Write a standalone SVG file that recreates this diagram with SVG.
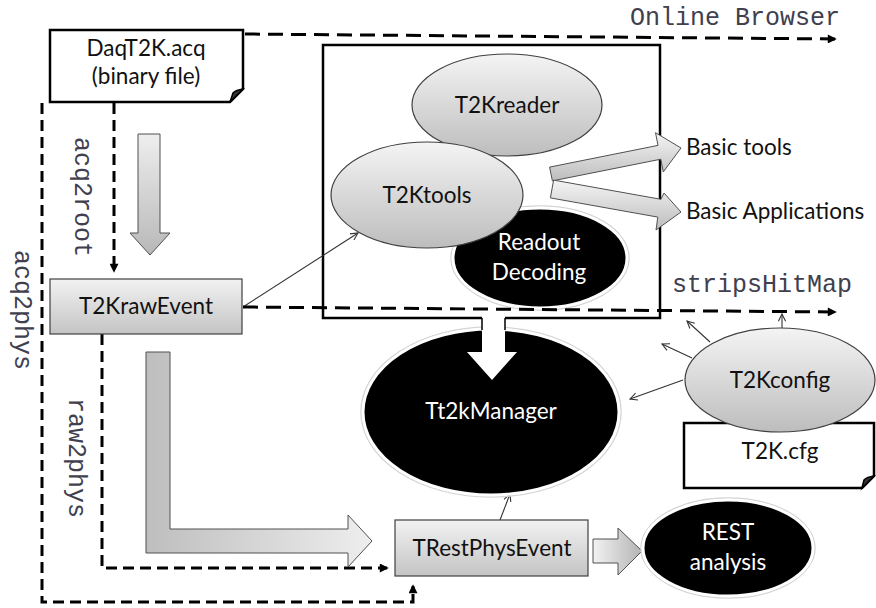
<svg xmlns="http://www.w3.org/2000/svg" width="876" height="608" viewBox="0 0 876 608">
<style>
.lbl{font-family:Lato,"Open Sans","Liberation Sans",sans-serif;font-size:22.5px;fill:#111;text-anchor:middle}
.wl{fill:#fff}
.mono{font-family:"Liberation Mono","DejaVu Sans Mono",monospace;font-size:25px;fill:#40404e}
.gell{fill:url(#gv);stroke:#404040;stroke-width:1.2}
.bell{fill:#000;stroke:#fff;stroke-width:3}
.halo{fill:none;stroke:#d4d4d4;stroke-width:1.5}
.note{fill:#fff;stroke:#000;stroke-width:2.5}
.fold{fill:#333;stroke:#000;stroke-width:1.5}
.rbox{fill:url(#gv2);stroke:#404040;stroke-width:1.2}
.dh{fill:none;stroke:#000;stroke-width:3;stroke-dasharray:15 8}
.dv{fill:none;stroke:#000;stroke-width:3;stroke-dasharray:11 6}
.thin{fill:none;stroke:#333;stroke-width:1.1;marker-end:url(#open)}
.barrow{stroke:#505050;stroke-width:1}
</style>
<defs>
<linearGradient id="gv" x1="0" y1="0" x2="0" y2="1"><stop offset="0" stop-color="#f4f4f4"/><stop offset="1" stop-color="#bdbdbd"/></linearGradient>
<linearGradient id="gv2" x1="0" y1="0" x2="0" y2="1"><stop offset="0" stop-color="#f2f2f2"/><stop offset="1" stop-color="#c4c4c4"/></linearGradient>
<linearGradient id="gdown" x1="0" y1="0" x2="0" y2="1"><stop offset="0" stop-color="#eeeeee"/><stop offset="1" stop-color="#b8b8b8"/></linearGradient>
<linearGradient id="gL" gradientUnits="userSpaceOnUse" x1="146" y1="0" x2="372" y2="0"><stop offset="0" stop-color="#bebebe"/><stop offset="1" stop-color="#eeeeee"/></linearGradient>
<linearGradient id="gR" x1="0" y1="0" x2="1" y2="0"><stop offset="0" stop-color="#f2f2f2"/><stop offset="1" stop-color="#b4b4b4"/></linearGradient>
<marker id="open" viewBox="0 0 10 10" refX="9" refY="5" markerWidth="9" markerHeight="9" markerUnits="userSpaceOnUse" orient="auto"><path d="M1,1 L9,5 L1,9" fill="none" stroke="#333" stroke-width="1.2"/></marker>
<marker id="solid" viewBox="0 0 10 10" refX="8" refY="5" markerWidth="10" markerHeight="9" markerUnits="userSpaceOnUse" orient="auto"><path d="M0,0 L10,5 L0,10 Z" fill="#000"/></marker>
</defs>

<!-- container box -->
<rect id="t2kbox" x="323" y="45" width="337" height="273" fill="none" stroke="#000" stroke-width="2.5"/>

<g id="connectors">
<path class="dh" d="M245,34 L835,39" marker-end="url(#solid)"/>
<path class="dv" d="M114,103 V271" marker-end="url(#solid)"/>
<path class="dv" d="M42,103 V602 H413 V586" marker-end="url(#solid)"/>
<path class="dv" d="M102,334 V568 H387" marker-end="url(#solid)"/>
<path class="thin" d="M243,307 L358,233"/>
<path class="thin" d="M500,520 L510,494"/>
<path class="thin" d="M782,328 L782,314"/>
<path class="thin" d="M710,342 L687,321"/>
<path class="thin" d="M692,358 L662,344"/>
<path class="thin" d="M683,380 L630,399"/>
<!-- block arrows -->
<path class="barrow" fill="url(#gdown)" d="M138,134 H160 V233 H170 L150,255 L130,233 H138 Z"/>
<path class="barrow" fill="url(#gL)" d="M146,352 H170 V529 H348 V515 L372,541 L348,567 V553 H146 Z"/>
<path class="barrow" fill="url(#gR)" d="M593,539 H618 V528 L642,551 L618,575 V563 H593 Z"/>
</g>

<g id="readout">
<ellipse class="halo" cx="540" cy="258" rx="89" ry="52"/>
<ellipse class="bell" cx="540" cy="258" rx="87" ry="50"/>
<text class="lbl wl" x="539" y="250">Readout</text>
<text class="lbl wl" x="539" y="280">Decoding</text>
</g>

<g id="t2kreader">
<ellipse class="gell" cx="507" cy="105" rx="95" ry="51"/>
<text class="lbl" x="507" y="113">T2Kreader</text>
</g>

<g id="t2ktools">
<ellipse class="gell" cx="427" cy="195" rx="96" ry="53"/>
<text class="lbl" x="427" y="203">T2Ktools</text>
</g>

<g id="tools-arrows">
<polygon class="barrow" fill="url(#gv)" points="549.6,167.1 658,145.4 655.5,132.7 681,148 663.3,171.9 660.8,159.2 552.4,180.9"/>
<polygon class="barrow" fill="url(#gv)" points="553.6,180.1 661,199.3 664,193 681,212 656,230 657.8,217.1 550.4,197.9"/>
</g>

<g id="basic-tools"><text class="lbl" style="text-anchor:start" x="686" y="155">Basic tools</text></g>
<g id="basic-apps"><text class="lbl" style="text-anchor:start" x="686" y="219">Basic Applications</text></g>

<g id="daq-note">
<path class="note" d="M50,30 H243 V89 L230,102 H50 Z"/>
<path class="fold" d="M230,102 L233,93 Q236,90 243,89 Z"/>
<text class="lbl" x="146" y="56">DaqT2K.acq</text>
<text class="lbl" x="146" y="84">(binary file)</text>
</g>

<g id="t2krawevent">
<rect class="rbox" x="50" y="279" width="192" height="55"/>
<text class="lbl" x="146" y="314">T2KrawEvent</text>
</g>

<g id="tt2kmanager">
<ellipse class="halo" cx="491" cy="412" rx="130" ry="85"/>
<ellipse class="bell" cx="491" cy="412" rx="128" ry="83"/>
<text class="lbl wl" x="491" y="419">Tt2kManager</text>
</g>

<polygon id="white-arrow" fill="#fff" points="482,316 505,316 505,352 517,352 492,380 467,352 482,352"/>
<path d="M482,318 V330 M505,318 V330" stroke="#000" stroke-width="1.5"/>

<g id="trestphysevent">
<rect class="rbox" x="395" y="520" width="193" height="56"/>
<text class="lbl" x="492" y="556">TRestPhysEvent</text>
</g>

<g id="rest">
<ellipse class="halo" cx="728" cy="548" rx="87" ry="50"/>
<ellipse class="bell" cx="728" cy="548" rx="85" ry="48"/>
<text class="lbl wl" x="728" y="540">REST</text>
<text class="lbl wl" x="728" y="570">analysis</text>
</g>

<g id="cfg-note">
<path class="note" d="M684,423 H874 V476 L862,488 H684 Z"/>
<path class="fold" d="M862,488 L864,480 Q867,477 874,476 Z"/>
<text class="lbl" x="780" y="459">T2K.cfg</text>
</g>

<g id="t2kconfig">
<ellipse class="gell" cx="780" cy="380" rx="95" ry="52"/>
<text class="lbl" x="780" y="388">T2Kconfig</text>
</g>

<path class="dh" d="M243,307 L835,312" marker-end="url(#solid)"/>

<text class="mono" x="630" y="25">Online Browser</text>
<text class="mono" x="672" y="292">stripsHitMap</text>
<text class="mono" transform="translate(75,137) rotate(90)">acq2root</text>
<text class="mono" transform="translate(15,250) rotate(90)">acq2phys</text>
<text class="mono" transform="translate(69,398) rotate(90)">raw2phys</text>
</svg>
